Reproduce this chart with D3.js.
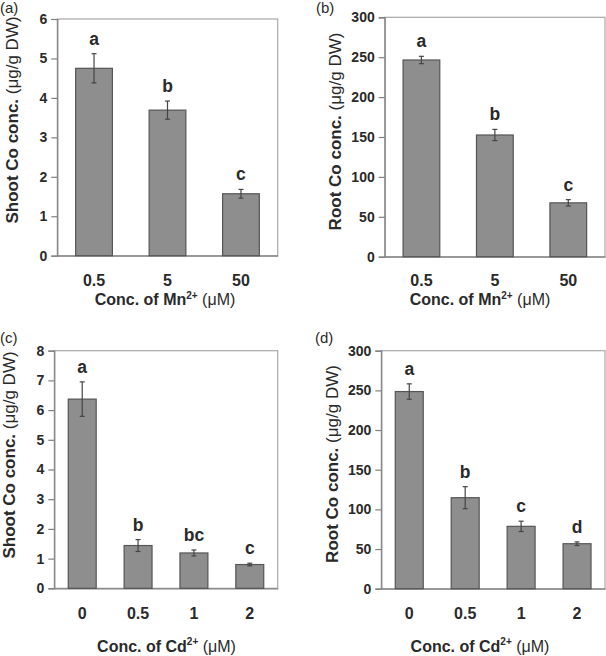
<!DOCTYPE html>
<html>
<head>
<meta charset="utf-8">
<script src="https://cdn.jsdelivr.net/npm/d3@7/dist/d3.min.js"></script>
<style>
  html, body { margin: 0; padding: 0; background: #fff; }
  svg { display: block; font-family: "Liberation Sans", Arial, sans-serif; }
</style>
</head>
<body>
<svg id="chart" width="606" height="656"></svg>
<script>
// ---------- data ----------
const mnLevels = ["0.5", "5", "50"];
const cdLevels = ["0", "0.5", "1", "2"];

const shootMnMean = [4.75, 3.69, 1.57];
const shootMnErr = [0.37, 0.23, 0.11];
const shootMnLetters = ["a", "b", "c"];

const rootMnMean = [246.5, 152.5, 67.5];
const rootMnErr = [4.6, 7, 4];
const rootMnLetters = ["a", "b", "c"];

const shootCdMean = [6.37, 1.44, 1.19, 0.80];
const shootCdErr = [0.58, 0.20, 0.10, 0.045];
const shootCdLetters = ["a", "b", "bc", "c"];

const rootCdMean = [248.5, 114.7, 78.6, 56.7];
const rootCdErr = [9.7, 13.9, 6.5, 2.3];
const rootCdLetters = ["a", "b", "c", "d"];

const shootMnTicks = [0, 1, 2, 3, 4, 5, 6];
const shootCdTicks = [0, 1, 2, 3, 4, 5, 6, 7, 8];
const rootTicks = [0, 50, 100, 150, 200, 250, 300];

// ---------- layout ----------
const panels = [
  { tag: "(a)", tagX: 0, tagY: 13, cats: mnLevels, mean: shootMnMean, err: shootMnErr, letters: shootMnLetters,
    ticks: shootMnTicks, max: 6, left: 57.3, right: 277.7, top: 19, bottom: 255.7,
    yTitle: "Shoot Co conc. ", ion: "Mn", yTitleX: 11.5, yTitleY: 120, xTitleX: 165, xTitleY: 305, xTickY: 285.8 },
  { tag: "(b)", tagX: 316, tagY: 13, cats: mnLevels, mean: rootMnMean, err: rootMnErr, letters: rootMnLetters,
    ticks: rootTicks, max: 300, left: 384.7, right: 605, top: 17.3, bottom: 256.7,
    yTitle: "Root Co conc. ", ion: "Mn", yTitleX: 334.5, yTitleY: 131.5, xTitleX: 480, xTitleY: 305, xTickY: 286 },
  { tag: "(c)", tagX: 0, tagY: 343, cats: cdLevels, mean: shootCdMean, err: shootCdErr, letters: shootCdLetters,
    ticks: shootCdTicks, max: 8, left: 54.3, right: 277.7, top: 350.7, bottom: 588.3,
    yTitle: "Shoot Co conc. ", ion: "Cd", yTitleX: 8.5, yTitleY: 455, xTitleX: 166.5, xTitleY: 651.5, xTickY: 619 },
  { tag: "(d)", tagX: 315, tagY: 343, cats: cdLevels, mean: rootCdMean, err: rootCdErr, letters: rootCdLetters,
    ticks: rootTicks, max: 300, left: 381.3, right: 605, top: 350.7, bottom: 588.7,
    yTitle: "Root Co conc. ", ion: "Cd", yTitleX: 331.5, yTitleY: 464, xTitleX: 480, xTitleY: 651.5, xTickY: 619.3 }
];

const svg = d3.select("#chart");
const barFill = "#8e8e8e", barStroke = "#555", frameColor = "#a8a8a8", axisColor = "#808080", textColor = "#2a2a2a";

panels.forEach(p => {
  const g = svg.append("g");
  const x = d3.scaleBand().domain(p.cats).range([p.left, p.right]).paddingInner(0.5).paddingOuter(0.25);
  const y = d3.scaleLinear().domain([0, p.max]).range([p.bottom, p.top]);

  // frame (top/right)
  g.append("rect").attr("x", p.left).attr("y", p.top)
    .attr("width", p.right - p.left).attr("height", p.bottom - p.top)
    .attr("fill", "none").attr("stroke", frameColor).attr("stroke-width", 1.2);

  // y axis
  const yAxis = d3.axisLeft(y).tickValues(p.ticks).tickSize(6).tickPadding(4).tickFormat(d3.format("d"));
  const ya = g.append("g").attr("transform", `translate(${p.left},0)`).call(yAxis);
  ya.select(".domain").attr("stroke", axisColor).attr("stroke-width", 1.2);
  ya.selectAll(".tick line").attr("stroke", axisColor).attr("stroke-width", 1.2);
  ya.selectAll(".tick text").attr("fill", textColor).attr("font-size", 14).attr("font-weight", "bold")
    .attr("font-family", "Liberation Sans, Arial, sans-serif");

  // x axis line
  const xAxis = d3.axisBottom(x).tickSize(0).tickPadding(0);
  const xa = g.append("g").attr("transform", `translate(0,${p.bottom})`).call(xAxis);
  xa.select(".domain").attr("stroke", axisColor).attr("stroke-width", 1.2);
  xa.selectAll(".tick text").attr("fill", textColor).attr("font-size", 16).attr("font-weight", "bold")
    .attr("font-family", "Liberation Sans, Arial, sans-serif")
    .attr("dy", null).attr("y", p.xTickY - p.bottom);

  // bars
  g.selectAll("rect.bar").data(p.cats).join("rect").attr("class", "bar")
    .attr("x", d => x(d)).attr("width", x.bandwidth())
    .attr("y", (d, i) => y(p.mean[i])).attr("height", (d, i) => y(0) - y(p.mean[i]))
    .attr("fill", barFill).attr("stroke", barStroke).attr("stroke-width", 1.2);

  // error bars
  const cap = 2.5;
  p.cats.forEach((c, i) => {
    const cx = x(c) + x.bandwidth() / 2;
    const hi = y(p.mean[i] + p.err[i]), lo = y(p.mean[i] - p.err[i]);
    g.append("line").attr("x1", cx).attr("x2", cx).attr("y1", hi).attr("y2", lo).attr("stroke", "#444").attr("stroke-width", 1.2);
    g.append("line").attr("x1", cx - cap).attr("x2", cx + cap).attr("y1", hi).attr("y2", hi).attr("stroke", "#444").attr("stroke-width", 1.2);
    g.append("line").attr("x1", cx - cap).attr("x2", cx + cap).attr("y1", lo).attr("y2", lo).attr("stroke", "#444").attr("stroke-width", 1.2);
    g.append("text").attr("x", cx).attr("y", hi - 9).attr("text-anchor", "middle")
      .attr("font-size", 17.5).attr("font-weight", "bold").attr("fill", textColor).text(p.letters[i]);
  });

  // panel tag
  g.append("text").attr("x", p.tagX).attr("y", p.tagY).attr("font-size", 15).attr("fill", textColor).text(p.tag);

  // y title
  const yt = g.append("text").attr("transform", `translate(${p.yTitleX},${p.yTitleY}) rotate(-90)`)
    .attr("text-anchor", "middle").attr("dominant-baseline", "central").attr("font-size", 17).attr("fill", textColor);
  yt.append("tspan").attr("font-weight", "bold").text(p.yTitle);
  yt.append("tspan").text("(μg/g DW)");

  // x title
  const xt = g.append("text").attr("x", p.xTitleX).attr("y", p.xTitleY).attr("text-anchor", "middle")
    .attr("font-size", 16).attr("fill", textColor);
  xt.append("tspan").attr("font-weight", "bold").text("Conc. of " + p.ion);
  xt.append("tspan").attr("font-weight", "bold").attr("font-size", 10).attr("dy", -6.5).text("2+");
  xt.append("tspan").attr("dy", 6.5).text(" (μM)");
});
</script>
</body>
</html>
